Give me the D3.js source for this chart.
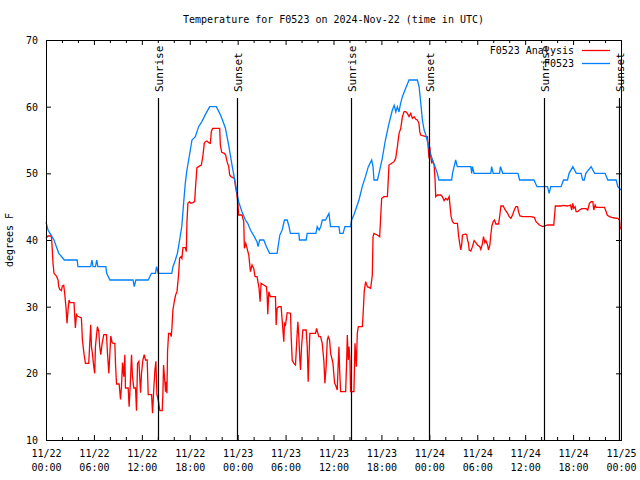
<!DOCTYPE html>
<html><head><meta charset="utf-8">
<script src="https://cdn.jsdelivr.net/npm/d3@7"></script>
<style>
html,body{margin:0;padding:0;background:#fff;}
text{font-family:"DejaVu Sans Mono",monospace;font-size:10px;fill:#000;}
</style></head>
<body>
<svg id="chart" width="640" height="480"></svg>
<script>
// ---- data (hours since 2024-11-22 00:00 UTC, degrees F) ----
const obsHours = [0,0.25,0.5,0.75,1,1.3,1.6,2.3,3.9,4,5.6,5.75,5.9,6.2,6.35,6.5,7.5,7.6,8,10.9,11.05,11.25,12.8,13.2,13.7,13.85,14.05,15.75,15.9,16.2,16.45,16.6,16.8,17,17.23,17.44,17.65,18.07,18.28,18.7,19.11,19.53,19.95,20.5,21.33,21.75,22.04,22.46,22.88,23.3,23.71,24.13,24.55,24.97,25.26,25.6,26,26.43,26.55,26.76,27.27,27.6,28,28.94,29.27,29.57,29.86,30.2,30.4,30.6,31.66,31.74,32.58,32.7,33.8,33.96,34.2,34.4,34.6,35,35.43,35.63,36.68,36.8,37.2,37.43,38.14,38.27,38.56,38.85,39.19,39.6,40,40.36,40.78,40.95,41.07,41.5,41.7,42.1,42.5,42.95,43.37,43.6,43.8,44,44.2,44.4,44.63,45.05,45.46,46.5,46.72,46.93,47.13,47.35,47.55,47.76,47.97,48.18,48.39,48.72,49,49.2,50.8,50.9,51.1,51.3,51.5,53.2,53.3,53.4,53.6,55.7,55.8,56,56.8,56.9,57.2,59.1,59.3,61.1,61.48,62.8,63,63.2,64.5,64.8,65.3,65.5,65.97,66.4,67,67.2,67.4,67.6,68.26,68.7,70,70.35,71.4,71.6,72];
const obsTemps = [42.7,41.5,41,40.5,40,39,38,37,37,36,36,37,36,36,37,36,36,35,34,34,33,34,34,35,35,36,35,35,36,37,38,39,40.5,42,45.5,48.5,50.5,53.5,55,55.5,57,57.8,58.8,60,60,59,58.2,56.8,54.2,51.2,48.5,45.7,44.2,43,42.5,41.5,40.7,39.7,39,40,40,39,38,38,40.7,41.5,43,43,42.2,41,41,40,40,41,41,42,41.5,42,43,43,44,42,42,41,41,42,42,43,43.8,44.8,46,48,49.5,51,52,51,49,49,50,52.2,55,57.5,59.5,60.2,59.2,60,59.2,60.5,61.5,62.8,64,64,63,60.5,58,56.5,55.8,54.8,53.8,52.8,52,51,50,49,49,50,51,52,51,51,50,51,50,50,51,50,50,51,50,50,49,49,48,48,47,48,48,49,49,50,51,50,50,49,49,50,51,50,50,49,49,48,47.5];

const anaHours = [0,0.25,0.67,0.75,0.88,1,1.3,1.51,1.59,1.72,1.92,2.05,2.22,2.34,2.51,2.63,2.76,2.89,3.01,3.51,3.6,3.68,3.81,3.93,4.43,4.56,4.77,4.94,5.35,5.48,5.6,5.69,5.81,5.98,6.1,6.19,6.31,6.44,6.61,6.73,6.86,7.03,7.24,7.57,7.7,7.87,7.99,8.11,8.28,8.41,8.62,8.7,8.83,9.16,9.33,9.45,9.58,9.74,9.87,9.95,10.29,10.41,10.54,10.71,10.83,11,11.21,11.33,11.46,11.63,11.84,11.96,12.13,12.3,12.46,12.67,12.8,13.22,13.34,13.51,13.64,13.76,13.89,14.05,14.26,14.55,14.64,14.72,14.85,14.97,15.06,15.14,15.22,15.35,15.56,15.68,15.77,15.89,16.06,16.23,16.4,16.6,16.73,16.9,17.02,17.15,17.44,17.57,17.65,17.77,17.98,18.15,18.4,18.61,18.74,18.9,19.11,19.45,19.66,19.82,19.95,20.16,20.37,20.58,20.7,20.87,21.75,21.83,22,22.33,22.5,22.67,22.88,23,23.17,23.59,23.76,23.88,24.01,24.13,24.55,24.76,24.84,25.01,25.18,25.39,25.6,25.8,26.01,26.18,26.43,26.68,26.81,26.93,27.27,27.6,27.69,27.77,27.9,28.1,28.73,28.82,28.94,29.15,29.44,29.78,29.86,29.99,30.2,30.62,30.7,30.83,31.04,31.24,31.45,31.54,31.66,31.79,31.87,32,32.16,32.58,32.71,32.83,32.92,33.04,33.75,33.88,34.05,34.17,34.38,34.59,34.8,34.92,35.09,35.22,35.34,35.51,35.64,35.84,35.93,36.14,36.26,36.47,36.56,36.68,36.76,36.89,37.52,37.64,37.73,37.85,37.94,38.06,38.14,38.56,38.69,38.86,38.98,39.11,39.61,39.69,39.86,40.03,40.24,40.65,40.86,40.95,41.07,41.49,41.78,41.91,42.03,42.33,42.75,42.95,43.29,43.58,43.79,44,44.21,44.42,44.63,44.84,45.04,45.25,45.46,45.67,45.88,46.1,46.3,46.5,46.7,46.8,46.92,47.55,47.76,47.88,47.97,48.05,48.13,48.3,48.39,48.6,48.72,48.8,49,49.43,49.64,49.85,50.06,50.27,50.48,50.6,50.73,50.9,51.1,51.52,51.65,51.8,51.94,52.07,52.15,52.57,52.69,52.78,52.9,52.99,53.2,53.4,53.61,53.82,54.03,54.32,54.45,54.66,54.78,54.95,55.08,55.29,55.41,55.58,55.7,55.83,56,56.16,56.33,56.67,56.83,56.96,57.25,57.5,57.8,58,58.21,58.42,58.63,58.84,59.05,59.17,59.34,59.68,60.72,61.15,61.36,61.78,62.2,62.82,63.58,63.78,64.5,64.7,65.33,65.67,65.83,65.96,66.08,66.25,66.38,66.59,66.8,67.09,67.63,67.84,68.05,68.26,68.47,68.59,68.76,68.89,69.93,70.14,70.27,70.56,70.85,71.19,71.6,71.81,71.9,72];
const anaTemps = [40.3,40.6,40.6,39.3,36.5,35,34.6,34,33,32.6,32.4,33.1,33.2,32,29.8,27.5,29.5,31,30.6,30.6,28.5,26.8,28.8,28.6,28.3,25,22.8,21.5,21.5,24.5,27.3,24,23,21,20,24,25.5,27,26.3,24,22.8,24.5,25.8,25.8,23,20,22.8,25.6,24.6,24.5,24.5,21.5,18.4,18.4,16.1,18,21.6,19.5,22.8,17.8,17.8,15,18,22.8,19.5,17.8,17.8,14.4,21.5,21.8,17.1,20,22,22.8,22,22,16.8,16.8,14,18,20.5,21.8,16.8,16,14.4,14.4,17,21.25,19.25,17.25,18.75,17,23.25,26,26,25.5,26.8,29.5,30.75,31.75,32.25,34.75,37.25,37.5,37.25,38.85,38.85,38.25,42.75,45.5,45.75,45.5,45.6,45.75,48.25,50.85,51,51.25,52.75,54.5,54.75,54.85,54.6,54.5,56.25,56.75,56.75,54.25,53.15,53,52.75,51.75,51,49.75,49.5,49.25,47.75,47,45.75,43.75,43.75,42.75,38.75,39.5,38.75,37.75,35.25,36.25,35.75,34.5,34.5,32.75,30.75,33.5,33.25,33,31.75,28.85,32.25,31.5,31.5,27.25,29.75,30,30,24.75,27.5,27.25,29.1,29,25.5,22,21.5,21.25,26,27.75,25.5,22,20.5,24,26.5,26.5,24,18.75,22,26,26,26.75,26,25.5,25.5,24.5,21.75,18.5,21.25,25,25.5,25,23,22,21.5,18.5,18.25,17.5,20.5,24,20.75,17.25,17.25,21.5,25.75,22,24,22,17.25,17.25,24.5,21,26,27,27,28.5,32.5,33.75,33,32.75,34.75,40.5,41,40.75,40.5,43.5,46.25,46.5,46.5,51.25,51.5,51.75,52.25,54,56,56.75,58.5,59.25,59.25,59,58.5,59,58.25,58.5,58.1,58,57.5,56.25,55.75,55.5,55.5,53.5,52.25,54,53,51.5,52,51.25,49,46.5,46.75,46.75,46.5,45.9,46.25,46,46.5,45,43.5,42.75,42.5,42.5,40.75,39.5,38.5,39.5,40.75,40.9,40.75,40,39.5,38.5,38.35,39,39.9,39.6,39.25,39,38.6,39.5,40.5,39.6,39.9,39.25,38.5,39.25,40.75,42.1,42.75,43,42.4,42.4,43.75,45.1,45.1,44.5,44,43.5,43.25,43.75,44.5,45,45,44.25,43.6,43.5,43.5,43.4,42.75,42.25,42,42.25,42.25,45.1,45.1,45.2,45.1,45.25,44.5,45.5,44.75,45,44.25,44.25,44.5,44.7,44.7,44.5,45.5,45.75,45.75,44.5,45.25,44.9,44.9,44.25,43.75,43.5,43.4,43.3,43.25,43,41.75,42];

const sunHours = [14.05, 23.92, 38.18, 47.97, 62.32, 71.8];
const sunLabels = ["Sunrise","Sunset","Sunrise","Sunset","Sunrise","Sunset"];
const xTickLabels = ["11/22 00:00","11/22 06:00","11/22 12:00","11/22 18:00","11/23 00:00","11/23 06:00","11/23 12:00","11/23 18:00","11/24 00:00","11/24 06:00","11/24 12:00","11/24 18:00","11/25 00:00"];
const yTickValues = [10,20,30,40,50,60,70];
const seriesNames = ["F0523 Analysis","F0523"];
const seriesColors = ["#ff0000","#0080ff"];
const titleText = "Temperature for F0523 on 2024-Nov-22 (time in UTC)";
const yAxisTitle = "degrees F";

// ---- chart ----
const start = Date.UTC(2024,10,22);
const H = 3600e3;
const toDate = h => new Date(start + h*H);
const L = 46, R = 621, T = 40, B = 440;
const svg = d3.select("#chart");
const x = d3.scaleUtc().domain([toDate(0), toDate(72)]).range([L, R]);
const y = d3.scaleLinear().domain([10,70]).range([B, T]);

const majorDates = d3.range(0, 73, 6).map(toDate);
const minorDates = d3.range(0, 73, 2).filter(h => h % 6 !== 0).map(toDate);

function styleAxis(g){ g.select(".domain").remove(); g.selectAll("line").attr("stroke","#000"); }

// minor x ticks bottom/top
svg.append("g").attr("transform",`translate(0,${B})`)
  .call(d3.axisBottom(x).tickValues(minorDates).tickSize(-3).tickFormat("")).call(styleAxis);
svg.append("g").attr("transform",`translate(0,${T})`)
  .call(d3.axisTop(x).tickValues(minorDates).tickSize(-3).tickFormat("")).call(styleAxis);
// major x ticks bottom with labels
const xb = svg.append("g").attr("transform",`translate(0,${B})`)
  .call(d3.axisBottom(x).tickValues(majorDates).tickSize(-5).tickFormat((d,i)=>xTickLabels[i])).call(styleAxis);
xb.selectAll("text").each(function(d,i){
  const t = d3.select(this); const parts = xTickLabels[i].split(" ");
  t.text(null).attr("y",null).attr("dy",null);
  t.append("tspan").attr("x",0).attr("y",17).text(parts[0]);
  t.append("tspan").attr("x",0).attr("y",31).text(parts[1]);
});
svg.append("g").attr("transform",`translate(0,${T})`)
  .call(d3.axisTop(x).tickValues(majorDates).tickSize(-5).tickFormat("")).call(styleAxis);
// y ticks
svg.append("g").attr("transform",`translate(${L},0)`)
  .call(d3.axisLeft(y).tickValues(yTickValues).tickSize(-5).tickPadding(8)).call(styleAxis)
  .selectAll("text").attr("dy","0.35em");
svg.append("g").attr("transform",`translate(${R},0)`)
  .call(d3.axisRight(y).tickValues(yTickValues).tickSize(-5).tickFormat("")).call(styleAxis);

// series lines
const line = d3.line().x(d => x(toDate(d[0]))).y(d => y(d[1]));
const ana = anaHours.map((h,i)=>[h, anaTemps[i]]);
const obs = obsHours.map((h,i)=>[h, obsTemps[i]]);
svg.append("path").datum(ana).attr("d", line).attr("fill","none").attr("stroke",seriesColors[0]).attr("stroke-width",1.3);
svg.append("path").datum(obs).attr("d", line).attr("fill","none").attr("stroke",seriesColors[1]).attr("stroke-width",1.3);

// sunrise / sunset lines
sunHours.forEach((h,i)=>{
  const sx = Math.round(x(toDate(h))) + 0.5;
  svg.append("line").attr("x1",sx).attr("x2",sx).attr("y1",98).attr("y2",B)
    .attr("stroke","#000").attr("stroke-width",1.2);
  svg.append("text").attr("transform",`translate(${sx+4},92) rotate(-90)`)
    .style("font-size","11px").text(sunLabels[i]);
});

// frame
svg.append("rect").attr("x",L+0.5).attr("y",T+0.5).attr("width",R-L).attr("height",B-T)
  .attr("fill","none").attr("stroke","#000").attr("stroke-width",1);

// title
svg.append("text").attr("x",(L+R)/2).attr("y",23).attr("text-anchor","middle").text(titleText);
// y-axis title
svg.append("text").attr("transform",`translate(13,${(T+B)/2}) rotate(-90)`).attr("text-anchor","middle").text(yAxisTitle);

// legend
seriesNames.forEach((n,i)=>{
  const ly = 50 + i*13;
  svg.append("text").attr("x",574).attr("y",ly).attr("dy","0.35em").attr("text-anchor","end").text(n);
  svg.append("line").attr("x1",582).attr("x2",610).attr("y1",ly+0.5).attr("y2",ly+0.5)
    .attr("stroke",seriesColors[i]).attr("stroke-width",1.3);
});
</script>
</body></html>
